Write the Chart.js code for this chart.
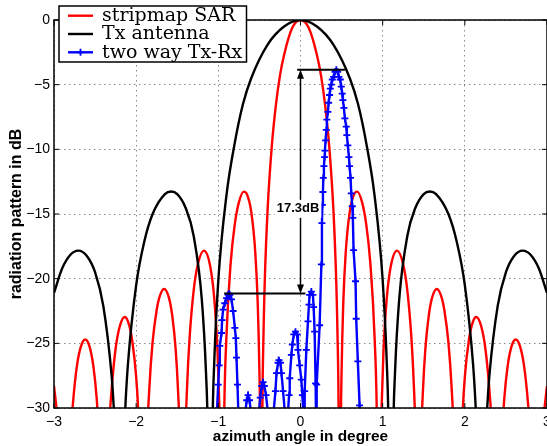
<!DOCTYPE html>
<html>
<head>
<meta charset="utf-8">
<script src="https://cdn.jsdelivr.net/npm/chart.js@4.4.1/dist/chart.umd.min.js"></script>
<style>
  html, body { margin: 0; padding: 0; background: #fff; }
  #wrap { width: 547px; height: 446px; }
</style>
</head>
<body>
<div id="wrap"><canvas id="pattern"></canvas></div>
<script>
// azimuth angle in degree / pattern level in dB for each trace
const sarAngle = [
  -3.0, -2.96, -2.93, -2.91, -2.868, -2.80, -2.77, -2.72, -2.67, -2.62, -2.57, -2.52, -2.48, -2.45, -2.43,
  -2.39, -2.33, -2.3, -2.25, -2.2, -2.14, -2.1, -2.05, -2.0, -1.97, -1.95, -1.912, -1.87, -1.84, -1.8,
  -1.75, -1.72, -1.66, -1.6, -1.56, -1.52, -1.49, -1.47, -1.434, -1.40, -1.38, -1.35, -1.3, -1.25, -1.175,
  -1.1, -1.05, -1.01, -0.99, -0.98, -0.956, -0.93, -0.9, -0.85, -0.8, -0.75, -0.69, -0.65, -0.6, -0.55,
  -0.52, -0.5, -0.49, -0.478, -0.465, -0.45, -0.43, -0.4, -0.35, -0.3, -0.25, -0.2, -0.1, 0,
  0.1, 0.2, 0.25, 0.3, 0.35, 0.4, 0.43, 0.45, 0.465, 0.478, 0.49, 0.5, 0.52, 0.55, 0.6, 0.65, 0.69,
  0.75, 0.8, 0.85, 0.9, 0.93, 0.956, 0.98, 0.99, 1.01, 1.05, 1.1, 1.175, 1.25, 1.3, 1.35, 1.38, 1.40,
  1.434, 1.47, 1.49, 1.52, 1.56, 1.6, 1.66, 1.72, 1.75, 1.8, 1.84, 1.87, 1.912, 1.95, 1.97, 2.0, 2.05,
  2.1, 2.14, 2.2, 2.25, 2.3, 2.33, 2.39, 2.43, 2.45, 2.48, 2.52, 2.57, 2.62, 2.67, 2.72, 2.77, 2.80,
  2.868, 2.91, 2.93, 2.96, 3.0
];
const sarDb = [
  -28.3, -30.7, -33.7, -36.9, -50, -32.6, -29.7, -26.7, -25.2, -24.7, -25.2, -26.8, -29.3, -32.5, -35.8,
  -50, -32.0, -28.7, -25.4, -23.7, -22.96, -23.3, -24.7, -27.6, -30.8, -34.3, -50, -33.1, -28.5, -24.9,
  -22.4, -21.5, -20.8, -21.5, -22.9, -25.4, -28.7, -32.3, -50, -32.4, -28.3, -24.6, -20.9, -18.9, -17.83,
  -19.0, -21.5, -25.6, -29.4, -32.3, -50, -31.1, -24.3, -18.8, -15.8, -14.1, -13.27, -13.5, -14.8, -18.0,
  -22.0, -27.2, -32.2, -50, -31.1, -24.2, -19.2, -14.6, -9.8, -6.6, -4.3, -2.7, -0.6, 0,
  -0.6, -2.7, -4.3, -6.6, -9.8, -14.6, -19.2, -24.2, -31.1, -50, -32.2, -27.2, -22.0, -18.0, -14.8, -13.5, -13.27,
  -14.1, -15.8, -18.8, -24.3, -31.1, -50, -32.3, -29.4, -25.6, -21.5, -19.0, -17.83, -18.9, -20.9, -24.6, -28.3, -32.4,
  -50, -32.3, -28.7, -25.4, -22.9, -21.5, -20.8, -21.5, -22.4, -24.9, -28.5, -33.1, -50, -34.3, -30.8, -27.6, -24.7,
  -23.3, -22.96, -23.7, -25.4, -28.7, -32.0, -50, -35.8, -32.5, -29.3, -26.8, -25.2, -24.7, -25.2, -26.7, -29.7, -32.6,
  -50, -36.9, -33.7, -30.7, -28.3
];

const txAngle = [
  -3.0, -2.9, -2.8, -2.705, -2.6, -2.5, -2.4, -2.3, -2.28, -2.25, -2.2, -2.15, -2.13, -2.1, -2.0,
  -1.9, -1.8, -1.65, -1.573, -1.5, -1.4, -1.3, -1.2, -1.15, -1.13, -1.1, -1.07, -1.05, -1.0, -0.9,
  -0.8, -0.7, -0.6, -0.4, -0.2, 0,
  0.2, 0.4, 0.6, 0.7, 0.8, 0.9, 1.0, 1.05, 1.07, 1.1, 1.13, 1.15, 1.2, 1.3, 1.4, 1.5, 1.573, 1.65, 1.8,
  1.9, 2.0, 2.1, 2.13, 2.15, 2.2, 2.25, 2.28, 2.3, 2.4, 2.5, 2.6, 2.705, 2.8, 2.9, 3.0
];
const txDb = [
  -21.1, -19.2, -18.15, -17.83, -18.24, -19.5, -22.1, -27.4, -29.2, -33.1, -50, -32.7, -29.7, -26.6, -20.5,
  -17.1, -15.0, -13.46, -13.26, -13.46, -14.5, -16.7, -21.7, -27.3, -31.5, -50, -31.1, -26.5, -20.1, -13.5,
  -9.5, -6.5, -4.5, -1.9, -0.5, 0,
  -0.5, -1.9, -4.5, -6.5, -9.5, -13.5, -20.1, -26.5, -31.1, -50, -31.5, -27.3, -21.7, -16.7, -14.5, -13.46, -13.26, -13.46, -15.0,
  -17.1, -20.5, -26.6, -29.7, -32.7, -50, -33.1, -29.2, -27.4, -22.1, -19.5, -18.24, -17.83, -18.15, -19.2, -21.1
];

// the two levels picked off the two-way trace
const mainPeakDb = -3.85;
const sideLobeDb = -21.15;

const twoWayAngle = [
  -1.025, -1.002, -0.990, -0.982, -0.961, -0.954, -0.942, -0.921, -0.900, -0.880, -0.869, -0.860, -0.840,
  -0.820, -0.799, -0.787, -0.779, -0.767, -0.755, -0.715,
  -0.675, -0.655, -0.638, -0.620, -0.600, -0.555,
  -0.510, -0.490, -0.472, -0.456, -0.440, -0.420, -0.392, -0.360,
  -0.330, -0.305, -0.292, -0.273, -0.262, -0.244, -0.232, -0.212, -0.188, -0.172,
  -0.155, -0.139, -0.131, -0.111, -0.099, -0.081, -0.061, -0.041, -0.031, -0.010, 0.010, 0.023, 0.036, 0.043,
  0.051, 0.071, 0.091, 0.103, 0.111, 0.132, 0.151, 0.160, 0.172, 0.184, 0.190,
  0.197, 0.233, 0.254, 0.261, 0.266, 0.273, 0.278, 0.285, 0.293, 0.297, 0.306, 0.314, 0.321, 0.334,
  0.342, 0.354, 0.363, 0.375, 0.387, 0.403, 0.420, 0.436, 0.452, 0.467, 0.484, 0.496, 0.508, 0.516,
  0.528, 0.540, 0.557, 0.564, 0.576, 0.589, 0.597, 0.609, 0.618, 0.630, 0.637, 0.646, 0.670, 0.678,
  0.698, 0.719, 0.730
];
const twoWayDb = [
  -31.5, -28.2, -26.7, -25.2, -24.2, -23.2, -22.4, -21.9, -21.5, -21.25, sideLobeDb, -21.25, -21.6,
  -22.5, -23.8, -24.6, -26.1, -28.2, -30.6, -38,
  -30.6, -29.4, -29.0, -29.4, -30.6, -38,
  -30.6, -29.2, -28.3, -28.0, -28.3, -29.0, -30.6, -37,
  -30.5, -28.7, -27.3, -26.5, -26.3, -26.5, -27.3, -28.7, -30.5, -34,
  -30.6, -29.0, -27.7, -25.9, -25.1, -24.3, -24.1, -24.3, -25.5, -26.7, -27.8, -29.0, -30.6, -34,
  -28.7, -25.5, -23.3, -22.0, -21.25, -21.0, -21.25, -22.2, -24.1, -28.1, -31.5,
  -28.2, -23.6, -18.9, -15.7, -14.3, -13.3, -12.2, -11.3, -10.6, -10.1, -9.3, -8.5, -7.7, -7.1,
  -6.4, -5.8, -5.3, -5.0, -4.6, -4.4, -4.0, mainPeakDb, -4.0, -4.4, -4.6, -5.15, -5.7, -6.2,
  -6.8, -7.6, -8.25, -8.9, -9.7, -10.6, -11.3, -12.2, -13.4, -14.4, -15.3, -17.8, -20.2, -23.1,
  -26.4, -29.8, -33
];

const xTicks = [-3, -2, -1, 0, 1, 2, 3];
const yTicks = [-30, -25, -20, -15, -10, -5, 0];

const sansFont = '"Liberation Sans", Arial, Helvetica, sans-serif';
const legendFont = '19px "DejaVu Serif", serif';

const pairs = (xs, ys) => xs.map((v, i) => ({ x: v, y: ys[i] }));
const minusSign = v => (v < 0 ? '\u2212' + Math.abs(v) : String(v));

function arrowHead(ctx, px, py, dir) {
  // dir = -1 points up, +1 points down
  ctx.beginPath();
  ctx.moveTo(px, py);
  ctx.lineTo(px - 3.5, py - dir * 9);
  ctx.lineTo(px + 3.5, py - dir * 9);
  ctx.closePath();
  ctx.fill();
}

// no extra room for edge tick labels: the last x label runs off the canvas
function fixedSize(prop, size) {
  return s => {
    s[prop] = size;
    s.paddingLeft = s.paddingRight = s.paddingTop = s.paddingBottom = 0;
  };
}

const decorations = {
  id: 'decorations',
  afterDatasetsDraw(chart) {
    const { ctx, chartArea: area, scales: { x, y } } = chart;
    ctx.save();

    // level markers and the double arrow between them
    const yTop = y.getPixelForValue(mainPeakDb);
    const yBot = y.getPixelForValue(sideLobeDb);
    const xArrow = x.getPixelForValue(0);
    ctx.strokeStyle = '#000';
    ctx.fillStyle = '#000';
    ctx.lineWidth = 2;
    ctx.beginPath();
    ctx.moveTo(x.getPixelForValue(-0.04), yTop);
    ctx.lineTo(x.getPixelForValue(0.54), yTop);
    ctx.moveTo(x.getPixelForValue(-0.93), yBot);
    ctx.lineTo(x.getPixelForValue(0.06), yBot);
    ctx.stroke();
    ctx.lineWidth = 1.5;
    ctx.beginPath();
    ctx.moveTo(xArrow, yTop + 8);
    ctx.lineTo(xArrow, yBot - 8);
    ctx.stroke();
    arrowHead(ctx, xArrow, yTop, -1);
    arrowHead(ctx, xArrow, yBot, 1);

    const label = (mainPeakDb - sideLobeDb).toFixed(1) + 'dB';
    ctx.font = 'bold 13px ' + sansFont;
    const lx = x.getPixelForValue(-0.03);
    const ly = y.getPixelForValue(-14.6);
    const w = ctx.measureText(label).width;
    ctx.fillStyle = '#fff';
    ctx.fillRect(lx - w / 2 - 2, ly - 9, w + 4, 18);
    ctx.fillStyle = '#000';
    ctx.textAlign = 'center';
    ctx.textBaseline = 'middle';
    ctx.fillText(label, lx, ly);

    // axes box with inward ticks
    ctx.lineWidth = 1.5;
    ctx.strokeStyle = '#000';
    ctx.strokeRect(area.left, area.top, area.right - area.left, area.bottom - area.top);
    ctx.lineWidth = 1;
    ctx.beginPath();
    xTicks.forEach(t => {
      const px = x.getPixelForValue(t);
      ctx.moveTo(px, area.bottom); ctx.lineTo(px, area.bottom - 5);
      ctx.moveTo(px, area.top); ctx.lineTo(px, area.top + 5);
    });
    yTicks.forEach(t => {
      const py = y.getPixelForValue(t);
      ctx.moveTo(area.left, py); ctx.lineTo(area.left + 5, py);
      ctx.moveTo(area.right, py); ctx.lineTo(area.right - 5, py);
    });
    ctx.stroke();

    // legend
    const box = { left: 59, top: 6, width: 187.5, height: 56 };
    ctx.fillStyle = '#fff';
    ctx.fillRect(box.left, box.top, box.width, box.height);
    ctx.lineWidth = 1.5;
    ctx.strokeRect(box.left, box.top, box.width, box.height);
    ctx.font = legendFont;
    ctx.textAlign = 'left';
    ctx.textBaseline = 'middle';
    chart.data.datasets.forEach((ds, i) => {
      const ry = 15.7 + i * 18.3;
      ctx.strokeStyle = ds.borderColor;
      ctx.lineWidth = ds.borderWidth;
      ctx.beginPath();
      ctx.moveTo(68, ry);
      ctx.lineTo(93, ry);
      ctx.stroke();
      if (ds.pointRadius > 0) {
        ctx.lineWidth = ds.pointBorderWidth;
        ctx.beginPath();
        ctx.moveTo(80.5 - ds.pointRadius, ry); ctx.lineTo(80.5 + ds.pointRadius, ry);
        ctx.moveTo(80.5, ry - ds.pointRadius); ctx.lineTo(80.5, ry + ds.pointRadius);
        ctx.stroke();
      }
      ctx.fillStyle = '#000';
      ctx.fillText(ds.label, 102, ry + 0.5);
    });

    ctx.restore();
  }
};

const gridStyle = { color: '#8a8a8a', lineWidth: 1, drawTicks: false };
const dotted = { display: false, dash: [1.5, 3.5] };

new Chart(document.getElementById('pattern'), {
  type: 'line',
  data: {
    datasets: [
      {
        label: 'stripmap SAR',
        data: pairs(sarAngle, sarDb),
        borderColor: '#ff0000',
        borderWidth: 2.4,
        pointRadius: 0,
        cubicInterpolationMode: 'monotone',
        order: 2
      },
      {
        label: 'Tx antenna',
        data: pairs(txAngle, txDb),
        borderColor: '#000000',
        borderWidth: 2.4,
        pointRadius: 0,
        cubicInterpolationMode: 'monotone',
        order: 1
      },
      {
        label: 'two way Tx-Rx',
        data: pairs(twoWayAngle, twoWayDb),
        borderColor: '#0000ff',
        borderWidth: 2.4,
        tension: 0,
        pointStyle: 'cross',
        pointRadius: 3.5,
        pointBorderWidth: 1.8,
        pointBorderColor: '#0000ff',
        order: 0
      }
    ]
  },
  options: {
    responsive: true,
    maintainAspectRatio: false,
    animation: false,
    devicePixelRatio: 1,
    layout: { autoPadding: false, padding: { top: 20, right: -1, bottom: 0, left: 0 } },
    plugins: { legend: { display: false }, tooltip: { enabled: false } },
    scales: {
      x: {
        type: 'linear',
        min: -3,
        max: 3,
        afterFit: fixedSize('height', 38),
        afterBuildTicks: s => { s.ticks = xTicks.map(v => ({ value: v })); },
        ticks: { callback: minusSign, color: '#000', padding: 6, font: { family: sansFont, size: 14 } },
        grid: gridStyle,
        border: dotted,
        title: {
          display: true,
          text: 'azimuth angle in degree',
          color: '#000',
          padding: 0,
          font: { family: sansFont, size: 15.4, weight: 'bold' }
        }
      },
      y: {
        min: -30,
        max: 0,
        afterFit: fixedSize('width', 54),
        afterBuildTicks: s => { s.ticks = yTicks.map(v => ({ value: v })); },
        ticks: { callback: minusSign, color: '#000', padding: 4, font: { family: sansFont, size: 14 } },
        grid: gridStyle,
        border: dotted,
        title: {
          display: true,
          text: 'radiation pattern in dB',
          color: '#000',
          padding: { top: 6.6, bottom: 0 },
          font: { family: sansFont, size: 16, weight: 'bold' }
        }
      }
    }
  },
  plugins: [decorations]
});
</script>
</body>
</html>
